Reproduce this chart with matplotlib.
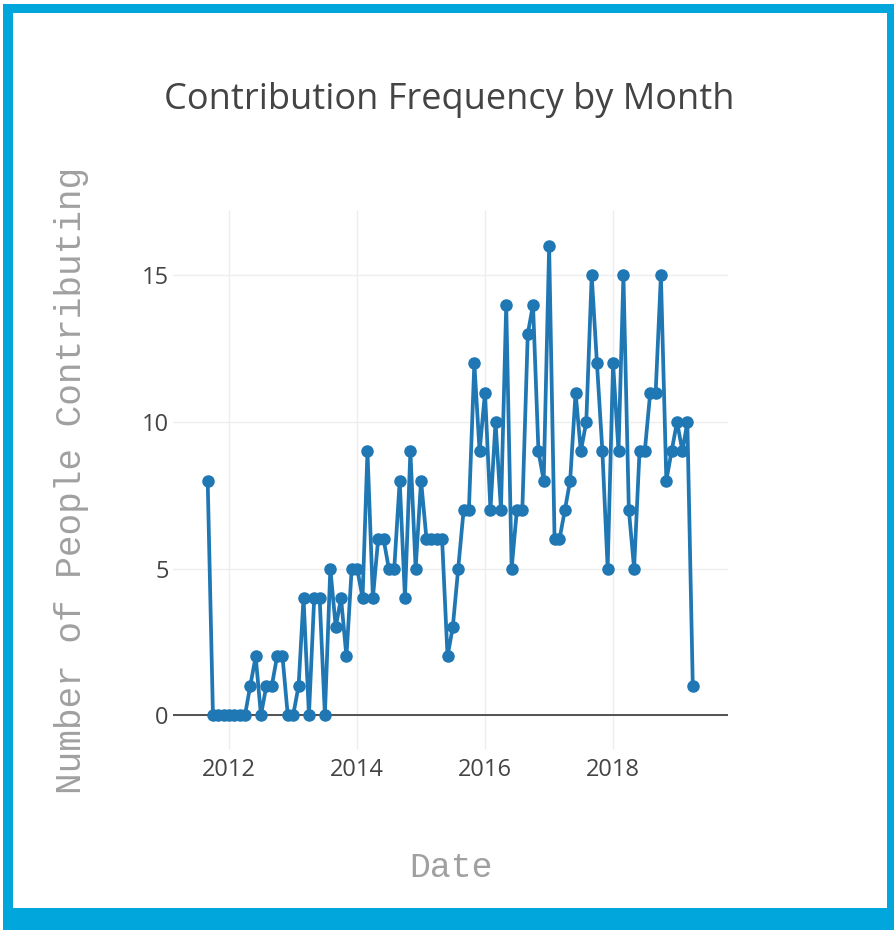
import pandas as pd
import matplotlib
matplotlib.use("Agg")
import matplotlib.pyplot as plt
from matplotlib.patches import Rectangle

# monthly counts, Sep 2011 .. Apr 2019
start_month = "2011-09-01"
counts = [
    8, 0, 0, 0,                                  # 2011 Sep-Dec
    0, 0, 0, 0, 1, 2, 0, 1, 1, 2, 2, 0,          # 2012
    0, 1, 4, 0, 4, 4, 0, 5, 3, 4, 2, 5,          # 2013
    5, 4, 9, 4, 6, 6, 5, 5, 8, 4, 9, 5,          # 2014
    8, 6, 6, 6, 6, 2, 3, 5, 7, 7, 12, 9,         # 2015
    11, 7, 10, 7, 14, 5, 7, 7, 13, 14, 9, 8,     # 2016
    16, 6, 6, 7, 8, 11, 9, 10, 15, 12, 9, 5,     # 2017
    12, 9, 15, 7, 5, 9, 9, 11, 11, 15, 8, 9,     # 2018
    10, 9, 10, 1,                                # 2019 Jan-Apr
]
months = pd.date_range(start_month, periods=len(counts), freq="MS")

y_ticks = [0, 5, 10, 15]
x_ticks = pd.to_datetime(["2012-01-01", "2014-01-01", "2016-01-01", "2018-01-01"])
x_tick_labels = ["2012", "2014", "2016", "2018"]

W, H = 894, 930
fig = plt.figure(figsize=(W / 100, H / 100), dpi=100)
fig.patch.set_facecolor("white")

# blue frame around the card
fig.add_artist(Rectangle((3 / W, 0), 891 / W, 926 / H, transform=fig.transFigure,
                         facecolor="#00a6dc", edgecolor="none", zorder=-2))
fig.add_artist(Rectangle((13 / W, 22 / H), 874 / W, 895 / H, transform=fig.transFigure,
                         facecolor="white", edgecolor="none", zorder=-1))

ax = fig.add_axes([173 / W, 180 / H, 555 / W, 540 / H])
ax.set_facecolor("white")

ax.plot(months, counts, color="#1f77b4", linewidth=2.7, marker="o",
        markersize=8, zorder=3, clip_on=False)

ax.set_xlim(pd.Timestamp("2011-02-15"), pd.Timestamp("2019-10-19"))
ax.set_ylim(-1.19, 17.23)

ax.set_yticks(y_ticks)
ax.set_xticks(x_ticks)
ax.set_xticklabels(x_tick_labels)
ax.grid(True, color="#eeeeee", linewidth=1)
ax.axhline(0, color="#444444", linewidth=1.3, zorder=2)
for s in ax.spines.values():
    s.set_visible(False)
ax.tick_params(axis="both", length=0, labelsize=17, labelcolor="#444444")
ax.tick_params(axis="x", pad=6)
ax.tick_params(axis="y", pad=3)
for lab in ax.get_xticklabels() + ax.get_yticklabels():
    lab.set_fontfamily("Open Sans")

fig.text(0.503, 0.892, "Contribution Frequency by Month", ha="center", va="center",
         fontsize=26, color="#444444", fontfamily="Open Sans")
fig.text(451 / W, 63 / H, "Date", ha="center", va="center",
         fontsize=25, color="#a0a0a0", fontfamily="Liberation Mono")
fig.text(72 / W, 450 / H, "Number of People Contributing", ha="center", va="center",
         rotation=90, fontsize=26, color="#a0a0a0", fontfamily="Liberation Mono")

fig.savefig("out.png", dpi=100)
